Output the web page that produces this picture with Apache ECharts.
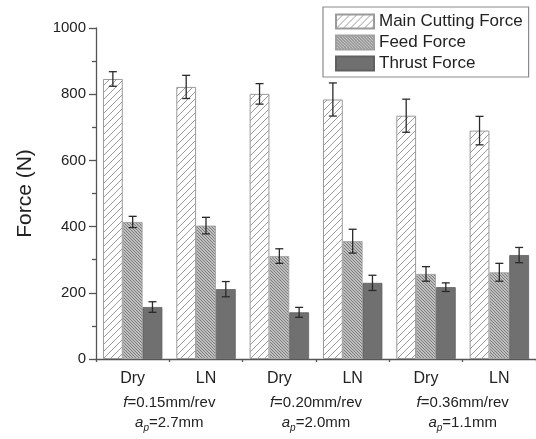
<!DOCTYPE html>
<html><head><meta charset="utf-8">
<script src="https://cdn.jsdelivr.net/npm/echarts@6/dist/echarts.min.js"></script>
<style>html,body{margin:0;padding:0;background:#fff}#c{width:536px;height:439px}</style>
</head><body><div id="c"></div>
<script>
var categories = ['Dry', 'LN', 'Dry', 'LN', 'Dry', 'LN'];
var groupLabels = ['0.15|2.7', '0.20|2.0', '0.36|1.1'];
var yTicks = [0, 200, 400, 600, 800, 1000];
var mainForce = [846, 822, 801, 784, 735, 690];
var mainErr = [22, 35, 31, 50, 50, 43];
var feedForce = [414, 403, 311, 356, 257, 262];
var feedErr = [17, 25, 22, 36, 22, 27];
var thrustForce = [157, 211, 141, 230, 217, 314];
var thrustErr = [16, 23, 15, 23, 13, 23];

function makePattern(size, bg, fg, dir, lw) {
  var c = document.createElement('canvas');
  c.width = size; c.height = size;
  var g = c.getContext('2d');
  g.fillStyle = bg; g.fillRect(0, 0, size, size);
  g.strokeStyle = fg; g.lineWidth = lw;
  g.beginPath();
  if (dir === '/') {
    g.moveTo(-1, size + 1); g.lineTo(size + 1, -1);
    g.moveTo(-1, 1); g.lineTo(1, -1);
    g.moveTo(size - 1, size + 1); g.lineTo(size + 1, size - 1);
  } else {
    g.moveTo(-1, -1); g.lineTo(size + 1, size + 1);
    g.moveTo(size - 1, -1); g.lineTo(size + 1, 1);
    g.moveTo(-1, size - 1); g.lineTo(1, size + 1);
  }
  g.stroke();
  return { image: c, repeat: 'repeat' };
}
var mainPat = makePattern(7, '#ffffff', '#9a9a9a', '/', 1);
var feedPat = makePattern(3, '#c0c0c0', '#7c7c7c', '\\', 1);

function errData(vals, errs) {
  return vals.map(function (v, i) { return [i, v - errs[i], v + errs[i]]; });
}
function errSeries(vals, errs, k) {
  return {
    type: 'custom', z: 10, silent: true,
    encode: { x: 0, y: [1, 2] },
    data: errData(vals, errs),
    renderItem: function (params, api) {
      var x = api.value(0);
      var pHi = api.coord([x, api.value(2)]);
      var pLo = api.coord([x, api.value(1)]);
      var band = api.size([1, 0])[0];
      var cx = pHi[0] + k * band * 0.81 / 3;
      var hw = 4;
      var st = { stroke: '#2a2a2a', lineWidth: 1.3 };
      return { type: 'group', children: [
        { type: 'line', shape: { x1: cx, y1: pHi[1], x2: cx, y2: pLo[1] }, style: st },
        { type: 'line', shape: { x1: cx - hw, y1: pHi[1], x2: cx + hw, y2: pHi[1] }, style: st },
        { type: 'line', shape: { x1: cx - hw, y1: pLo[1], x2: cx + hw, y2: pLo[1] }, style: st }
      ]};
    }
  };
}

var font = 'Liberation Sans, Arial, sans-serif';
var chart = echarts.init(document.getElementById('c'), null, { renderer: 'canvas' });
chart.setOption({
  animation: false,
  backgroundColor: '#fff',
  textStyle: { fontFamily: font },
  grid: { left: 96, right: -4, top: 28, bottom: 80 },
  legend: {
    orient: 'vertical', left: 323, top: 7,
    padding: [6, 6, 5, 12],
    itemGap: 4, itemWidth: 38, itemHeight: 14,
    borderColor: '#8a8a8a', borderWidth: 1.2,
    icon: 'rect',
    textStyle: { fontSize: 17, color: '#222', fontFamily: font },
    data: ['Main Cutting Force', 'Feed Force', 'Thrust Force']
  },
  xAxis: [
    {
      type: 'category', data: categories, boundaryGap: true,
      axisLine: { lineStyle: { color: '#555', width: 1.3 } },
      axisTick: { alignWithLabel: true, length: 6, lineStyle: { color: '#555', width: 1.3 } },
      axisLabel: { fontSize: 16, color: '#222', margin: 12, fontFamily: font }
    },
    {
      type: 'category', data: categories, position: 'bottom', boundaryGap: true,
      axisLine: { show: false },
      axisTick: { show: true, length: 3, lineStyle: { color: '#555', width: 1.3 } },
      axisLabel: { show: false }
    },
    {
      type: 'category', data: groupLabels, position: 'bottom', boundaryGap: true, offset: 0,
      axisLine: { show: false }, axisTick: { show: false },
      axisLabel: {
        margin: 34, color: '#222', fontSize: 15, fontFamily: font, lineHeight: 20,
        formatter: function (v) {
          var p = v.split('|');
          return '{i|f}=' + p[0] + 'mm/rev\n{i|a}{s|p}=' + p[1] + 'mm';
        },
        rich: {
          i: { fontStyle: 'italic', fontSize: 15, color: '#222', fontFamily: font, lineHeight: 20 },
          s: { fontStyle: 'italic', fontSize: 10, color: '#222', fontFamily: font, padding: [10, 0, 0, 0], lineHeight: 20 }
        }
      }
    }
  ],
  yAxis: {
    type: 'value', min: yTicks[0], max: yTicks[yTicks.length - 1], interval: 200,
    name: 'Force (N)', nameLocation: 'middle', nameGap: 60,
    nameTextStyle: { fontSize: 21, color: '#222', fontFamily: font },
    axisLine: { show: true, lineStyle: { color: '#555', width: 1.3 } },
    axisTick: { show: true, length: 7, lineStyle: { color: '#555', width: 1.3 } },
    minorTick: { show: true, splitNumber: 2, length: 4, lineStyle: { color: '#555', width: 1.3 } },
    splitLine: { show: false },
    axisLabel: { fontSize: 15, color: '#222', margin: 10, fontFamily: font,
      formatter: function (v) { return String(v); } }
  },
  series: [
    { name: 'Main Cutting Force', type: 'bar', data: mainForce, barGap: '0%', barCategoryGap: '19%',
      itemStyle: { color: mainPat, borderColor: '#9a9a9a', borderWidth: 1 } },
    { name: 'Feed Force', type: 'bar', data: feedForce, barGap: '0%', barCategoryGap: '19%',
      itemStyle: { color: feedPat, borderColor: '#a0a0a0', borderWidth: 0.8 } },
    { name: 'Thrust Force', type: 'bar', data: thrustForce, barGap: '0%', barCategoryGap: '19%',
      itemStyle: { color: '#707070', borderColor: '#606060', borderWidth: 0.8 } },
    errSeries(mainForce, mainErr, -1),
    errSeries(feedForce, feedErr, 0),
    errSeries(thrustForce, thrustErr, 1)
  ]
});
</script></body></html>
